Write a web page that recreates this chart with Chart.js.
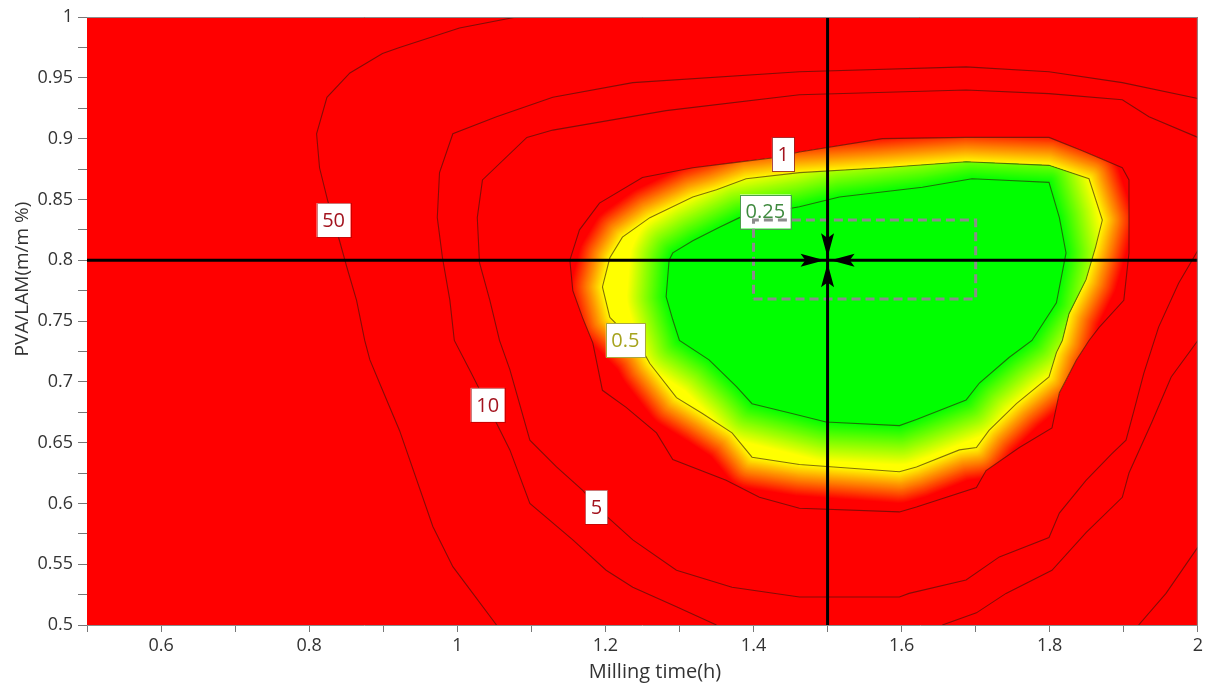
<!DOCTYPE html>
<html>
<head>
<meta charset="utf-8">
<title>Design space - milling time vs PVA/LAM</title>
<script src="https://cdn.jsdelivr.net/npm/chart.js@4.4.1/dist/chart.umd.min.js"></script>
<style>
  html, body { margin: 0; padding: 0; background: #fff; }
  #wrap { width: 1206px; height: 684px; }
</style>
</head>
<body>
<div id="wrap"><canvas id="contourChart" width="1206" height="684"></canvas></div>
<script>
// ============================
// Data
// ============================
const xRange = [0.5, 2];
const yRange = [0.5, 1];
const xTickLabels = ["0.6", "0.8", "1", "1.2", "1.4", "1.6", "1.8", "2"];
const yTickLabels = ["0.5", "0.55", "0.6", "0.65", "0.7", "0.75", "0.8", "0.85", "0.9", "0.95", "1"];

// contour lines, [milling time, PVA/LAM]
const level50a = [[1.080,1.0],[1.003,0.991],[0.922,0.975],[0.899,0.970],[0.855,0.954],[0.824,0.934],[0.810,0.904],[0.814,0.876],[0.825,0.849],[0.841,0.816],[0.851,0.794],[0.864,0.767],[0.875,0.734],[0.882,0.718],[0.895,0.699],[0.922,0.660],[0.967,0.581],[0.994,0.548],[1.021,0.526],[1.053,0.5]];
const level50b = [[2.0,0.564],[1.957,0.526],[1.920,0.5]];
const level10a = [[2.0,0.933],[1.898,0.946],[1.799,0.955],[1.687,0.959],[1.462,0.955],[1.237,0.946],[1.129,0.934],[1.053,0.918],[0.994,0.904],[0.976,0.872],[0.973,0.835],[0.980,0.802],[0.990,0.767],[0.996,0.734],[1.019,0.707],[1.053,0.666],[1.071,0.644],[1.098,0.600],[1.156,0.570],[1.201,0.545],[1.237,0.531],[1.296,0.515],[1.350,0.5]];
const level10b = [[1.655,0.5],[1.701,0.510],[1.741,0.526],[1.803,0.545],[1.849,0.576],[1.898,0.605],[1.907,0.625],[1.938,0.667],[1.964,0.704],[2.0,0.734]];
const level5 = [[2.0,0.901],[1.934,0.918],[1.898,0.932],[1.799,0.937],[1.687,0.940],[1.462,0.936],[1.282,0.923],[1.129,0.907],[1.094,0.901],[1.034,0.866],[1.027,0.835],[1.030,0.798],[1.044,0.767],[1.057,0.734],[1.071,0.710],[1.098,0.652],[1.134,0.630],[1.169,0.611],[1.188,0.597],[1.237,0.570],[1.296,0.545],[1.371,0.531],[1.462,0.523],[1.597,0.523],[1.610,0.526],[1.687,0.537],[1.732,0.556],[1.799,0.572],[1.813,0.592],[1.849,0.619],[1.884,0.641],[1.903,0.652],[1.914,0.677],[1.927,0.707],[1.947,0.745],[1.974,0.781],[2.0,0.808]];
const level1 = [[1.152,0.800],[1.156,0.775],[1.169,0.753],[1.183,0.732],[1.196,0.693],[1.228,0.679],[1.269,0.658],[1.291,0.636],[1.363,0.619],[1.408,0.605],[1.462,0.596],[1.597,0.593],[1.620,0.597],[1.701,0.613],[1.714,0.627],[1.759,0.646],[1.803,0.662],[1.813,0.691],[1.836,0.718],[1.853,0.734],[1.867,0.745],[1.900,0.767],[1.907,0.806],[1.907,0.866],[1.898,0.876],[1.844,0.890],[1.799,0.901],[1.687,0.901],[1.574,0.900],[1.462,0.889],[1.425,0.884],[1.371,0.880],[1.318,0.876],[1.250,0.868],[1.192,0.847],[1.165,0.825]];
const level05 = [[1.206,0.753],[1.196,0.778],[1.206,0.802],[1.223,0.819],[1.260,0.835],[1.318,0.852],[1.350,0.858],[1.390,0.867],[1.462,0.872],[1.574,0.876],[1.687,0.881],[1.799,0.878],[1.853,0.867],[1.871,0.833],[1.862,0.811],[1.849,0.784],[1.826,0.756],[1.817,0.734],[1.809,0.724],[1.799,0.704],[1.755,0.682],[1.718,0.660],[1.701,0.646],[1.678,0.644],[1.620,0.630],[1.597,0.626],[1.462,0.632],[1.398,0.638],[1.371,0.658],[1.331,0.674],[1.296,0.687],[1.260,0.715],[1.250,0.726]];
const level025 = [[1.286,0.800],[1.282,0.770],[1.291,0.751],[1.300,0.734],[1.340,0.718],[1.377,0.696],[1.398,0.682],[1.452,0.674],[1.498,0.667],[1.597,0.664],[1.620,0.669],[1.687,0.685],[1.705,0.699],[1.745,0.720],[1.776,0.734],[1.809,0.765],[1.822,0.806],[1.813,0.835],[1.799,0.864],[1.732,0.866],[1.695,0.867],[1.628,0.860],[1.516,0.852],[1.462,0.844],[1.381,0.835],[1.354,0.827],[1.318,0.816],[1.291,0.806]];

// contour labels
const labelText = ["50", "10", "5", "1", "0.5", "0.25"];
const labelX = [0.833, 1.041, 1.188, 1.440, 1.227, 1.416];
const labelY = [0.833, 0.681, 0.597, 0.887, 0.734, 0.840];

// optimum and design space
const optimum = [1.5, 0.8];
const designX = [1.4, 1.7];
const designY = [0.768, 0.833];

// ============================
// Styles
// ============================
const FONT = '"Open Sans", "Noto Sans", sans-serif';
const RED = [255, 0, 0], YELLOW = [255, 255, 0], GREEN = [0, 255, 0];
const OUTER_BAND = 32;   // px of red -> yellow ramp outside the 0.5 line
const INNER_BAND = 40;   // px of yellow -> green ramp outside the 0.25 line
const labelColors = {
    "50": ["#a3141f", "rgba(150,0,0,0.5)"],
    "10": ["#a3141f", "rgba(150,0,0,0.5)"],
    "5": ["#a3141f", "rgba(150,0,0,0.5)"],
    "1": ["#a3141f", "rgba(130,0,0,0.7)"],
    "0.5": ["#a6a31e", "#a8a840"],
    "0.25": ["#3f8a3f", "#4aa04a"]
};

function mix(c1, c2, t) {
    const c = c1.map((v, i) => Math.round(v + (c2[i] - v) * t));
    return `rgb(${c[0]},${c[1]},${c[2]})`;
}

function tickText(v, list) {
    const s = String(+Number(v).toFixed(3));
    return list.includes(s) ? s : "";
}

function toPoints(pairs, closed) {
    const pts = pairs.map(([x, y]) => ({ x, y }));
    if (closed) pts.push({ ...pts[0] });
    return pts;
}

function polyPath(chart, pairs) {
    const xs = chart.scales.x, ys = chart.scales.y;
    const p = new Path2D();
    pairs.forEach(([x, y], i) => {
        const px = xs.getPixelForValue(x), py = ys.getPixelForValue(y);
        if (i) p.lineTo(px, py); else p.moveTo(px, py);
    });
    p.closePath();
    return p;
}

// ============================
// Colour field: red, orange-yellow band, green core
// ============================
const fieldPlugin = {
    id: "field",
    beforeDatasetsDraw(chart) {
        const { ctx, chartArea: a } = chart;
        ctx.save();
        ctx.fillStyle = "#ff0000";
        ctx.fillRect(a.left, a.top, a.right - a.left, a.bottom - a.top);
        const p1 = polyPath(chart, level1);
        const p05 = polyPath(chart, level05);
        const p025 = polyPath(chart, level025);
        ctx.lineJoin = "round";

        // red -> yellow between the 1 and 0.5 lines
        ctx.clip(p1);
        for (let k = OUTER_BAND; k >= 1; k--) {
            ctx.strokeStyle = mix(YELLOW, RED, k / OUTER_BAND);
            ctx.lineWidth = 2 * k;
            ctx.stroke(p05);
        }
        ctx.fillStyle = mix(YELLOW, RED, 0);
        ctx.fill(p05);

        // yellow -> green between the 0.5 and 0.25 lines
        ctx.clip(p05);
        for (let k = INNER_BAND; k >= 1; k--) {
            ctx.strokeStyle = mix(GREEN, YELLOW, k / INNER_BAND);
            ctx.lineWidth = 2 * k;
            ctx.stroke(p025);
        }
        ctx.fillStyle = mix(GREEN, YELLOW, 0);
        ctx.fill(p025);
        ctx.restore();
    },
    // labels go under the dashed box but over the contour lines
    beforeDatasetDraw(chart, args) {
        const ds = chart.data.datasets[args.index];
        if (ds.label !== "design space") return;
        const { ctx } = chart;
        const xs = chart.scales.x, ys = chart.scales.y;
        ctx.save();
        ctx.font = "20px " + FONT;
        ctx.textAlign = "center";
        ctx.textBaseline = "middle";
        labelText.forEach((t, i) => {
            const cx = xs.getPixelForValue(labelX[i]);
            const cy = ys.getPixelForValue(labelY[i]);
            const w = ctx.measureText(t).width + 11;
            const h = 34;
            ctx.fillStyle = "#ffffff";
            ctx.fillRect(cx - w / 2, cy - h / 2, w, h);
            ctx.strokeStyle = labelColors[t][1];
            ctx.lineWidth = 1;
            ctx.strokeRect(Math.round(cx - w / 2) + 0.5, Math.round(cy - h / 2) + 0.5, Math.round(w), h);
            ctx.fillStyle = labelColors[t][0];
            ctx.fillText(t, cx, cy + 1);
        });
        ctx.restore();
    }
};

// ============================
// Arrows, frame and axis titles
// ============================
const overlayPlugin = {
    id: "overlay",
    afterDatasetsDraw(chart) {
        const { ctx, chartArea: a } = chart;
        const cx = chart.scales.x.getPixelForValue(optimum[0]);
        const cy = chart.scales.y.getPixelForValue(optimum[1]);
        ctx.save();
        ctx.fillStyle = "#000";
        const tip = 3, len = 24, half = 6.5;
        [[0, -1], [0, 1], [-1, 0], [1, 0]].forEach(([dx, dy]) => {
            const nx = -dy, ny = dx;
            const bx = cx + dx * (tip + len), by = cy + dy * (tip + len);
            ctx.beginPath();
            ctx.moveTo(cx + dx * tip, cy + dy * tip);
            ctx.lineTo(bx + nx * half, by + ny * half);
            ctx.lineTo(cx + dx * (tip + len * 0.8), cy + dy * (tip + len * 0.8));
            ctx.lineTo(bx - nx * half, by - ny * half);
            ctx.closePath();
            ctx.fill();
        });
        // top and right frame
        ctx.strokeStyle = "#8c8c8c";
        ctx.lineWidth = 1;
        ctx.beginPath();
        ctx.moveTo(a.left, a.top + 0.5);
        ctx.lineTo(a.right - 0.5, a.top + 0.5);
        ctx.lineTo(a.right - 0.5, a.bottom);
        ctx.stroke();
        ctx.restore();
    },
    afterDraw(chart) {
        const { ctx } = chart;
        ctx.save();
        ctx.fillStyle = "#333";
        ctx.textAlign = "center";
        ctx.textBaseline = "middle";
        ctx.font = "20px " + FONT;
        ctx.fillText("Milling time(h)", 655, 672);
        ctx.font = "19px " + FONT;
        ctx.translate(23, 279);
        ctx.rotate(-Math.PI / 2);
        ctx.fillText("PVA/LAM(m/m %)", 0, 0);
        ctx.restore();
    }
};

// ============================
// Datasets
// ============================
const contourLine = {
    showLine: true,
    pointRadius: 0,
    borderWidth: 1.1,
    borderColor: "rgba(50,20,10,0.6)",
    fill: false,
    order: 3
};

const contourSets = [
    [level50a, false], [level50b, false], [level10a, false], [level10b, false],
    [level5, false], [level1, true], [level05, true], [level025, true]
].map(([pairs, closed]) => ({ ...contourLine, data: toPoints(pairs, closed) }));

const datasets = [
    {
        label: "optimum x",
        data: [{ x: optimum[0], y: yRange[0] }, { x: optimum[0], y: yRange[1] }],
        showLine: true, pointRadius: 0, borderWidth: 3, borderColor: "#000", order: 0
    },
    {
        label: "optimum y",
        data: [{ x: xRange[0], y: optimum[1] }, { x: xRange[1], y: optimum[1] }],
        showLine: true, pointRadius: 0, borderWidth: 3, borderColor: "#000", order: 0
    },
    {
        label: "design space",
        data: [
            { x: designX[0], y: designY[0] }, { x: designX[1], y: designY[0] },
            { x: designX[1], y: designY[1] }, { x: designX[0], y: designY[1] },
            { x: designX[0], y: designY[0] }
        ],
        showLine: true, pointRadius: 0, borderWidth: 3, borderColor: "#8c8c8c",
        borderDash: [9, 5], order: 1
    },
    ...contourSets
];

// ============================
// Chart
// ============================
const tickFont = { family: FONT, size: 18 };

new Chart(document.getElementById("contourChart").getContext("2d"), {
    type: "scatter",
    data: { datasets },
    options: {
        responsive: false,
        animation: false,
        devicePixelRatio: 1,
        layout: { padding: { top: 17, right: 7, left: 0, bottom: 0 } },
        plugins: { legend: { display: false }, tooltip: { enabled: false } },
        scales: {
            x: {
                type: "linear",
                min: xRange[0],
                max: xRange[1],
                afterFit: s => { s.height = 59; },
                ticks: {
                    stepSize: 0.1,
                    autoSkip: false,
                    maxRotation: 0,
                    padding: 3,
                    color: "#333",
                    font: tickFont,
                    callback: v => tickText(v, xTickLabels)
                },
                grid: { drawOnChartArea: false, drawTicks: true, tickLength: 7, color: "#777" },
                border: { color: "#8c8c8c" }
            },
            y: {
                type: "linear",
                min: yRange[0],
                max: yRange[1],
                afterFit: s => { s.width = 87; },
                ticks: {
                    stepSize: 0.025,
                    autoSkip: false,
                    padding: 5,
                    color: "#333",
                    font: tickFont,
                    callback: v => tickText(v, yTickLabels)
                },
                grid: { drawOnChartArea: false, drawTicks: true, tickLength: 9, color: "#777" },
                border: { color: "#8c8c8c" }
            }
        }
    },
    plugins: [fieldPlugin, overlayPlugin]
});
</script>
</body>
</html>
